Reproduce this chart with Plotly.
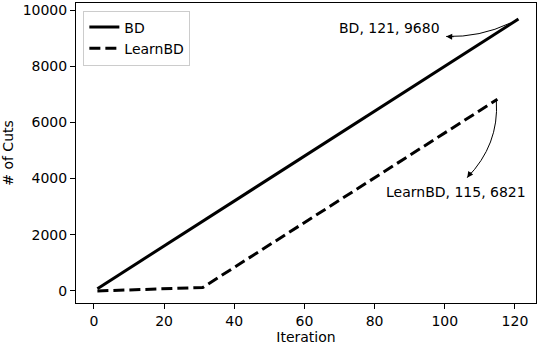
import plotly.graph_objects as go

# Data
bd_iter = [1, 121]
bd_cuts = [80, 9680]
learn_iter = [1, 31, 115]
learn_cuts = [0, 120, 6821]

x_ticks = [0, 20, 40, 60, 80, 100, 120]
y_ticks = [0, 2000, 4000, 6000, 8000, 10000]
y_tick_labels = ["0", "2000", "4000", "6000", "8000", "10000"]

FONT = "DejaVu Sans"
FS = 14
fig = go.Figure()
fig.add_trace(go.Scatter(x=bd_iter, y=bd_cuts, mode="lines", name="BD",
                         line=dict(color="black", width=3)))
fig.add_trace(go.Scatter(x=learn_iter, y=learn_cuts, mode="lines", name="LearnBD",
                         line=dict(color="black", width=3, dash="11px,5px")))

# curved annotation arrows (quadratic paths) in data coordinates
fig.add_shape(type="path", xref="x", yref="y",
              path="M 118.7,9538 Q 110,9023 100.4,9059",
              line=dict(color="black", width=1))
fig.add_shape(type="path", xref="x", yref="y",
              path="M 114.7,6767 Q 115.5,5204 106.4,4032",
              line=dict(color="black", width=1))

fig.add_annotation(x=100.4, y=9059, ax=9, ay=0.3, axref="pixel", ayref="pixel",
                   text="", showarrow=True, arrowhead=2, arrowsize=1.2,
                   arrowwidth=1, arrowcolor="black")
fig.add_annotation(x=106.4, y=4032, ax=5, ay=-7, axref="pixel", ayref="pixel",
                   text="", showarrow=True, arrowhead=2, arrowsize=1.2,
                   arrowwidth=1, arrowcolor="black")

fig.add_annotation(x=84.2, y=9360, text="BD, 121, 9680", showarrow=False,
                   font=dict(family=FONT, size=FS, color="black"))
fig.add_annotation(x=103.3, y=3535, text="LearnBD, 115, 6821", showarrow=False,
                   font=dict(family=FONT, size=FS, color="black"))

axis_common = dict(showgrid=False, zeroline=False, showline=True, linecolor="black",
                   linewidth=1, mirror=True, ticks="outside", ticklen=5,
                   tickcolor="black", automargin=False,
                   tickfont=dict(family=FONT, size=FS, color="black"))

fig.update_xaxes(range=[-5.1, 126], tickvals=x_ticks,
                 title=dict(text="Iteration", font=dict(family=FONT, size=FS, color="black"),
                            standoff=2),
                 **axis_common)
fig.update_yaxes(range=[-430, 10250], tickvals=y_ticks, ticktext=y_tick_labels,
                 title=dict(text="# of Cuts", font=dict(family=FONT, size=FS, color="black"),
                            standoff=6),
                 **axis_common)

fig.update_layout(
    width=543, height=350,
    margin=dict(l=76, r=7, t=3, b=47),
    plot_bgcolor="white", paper_bgcolor="white",
    font=dict(family=FONT, size=FS, color="black"),
    legend=dict(x=0.016, y=0.975, xanchor="left", yanchor="top",
                bgcolor="rgba(255,255,255,0.8)", bordercolor="#cccccc", borderwidth=1,
                font=dict(family=FONT, size=FS, color="black"),
                tracegroupgap=0, itemwidth=30),
    showlegend=True,
)

fig.write_html("out.html", config={"displayModeBar": False},
               post_script="document.body.style.margin='0px';document.body.style.overflow='hidden';")
